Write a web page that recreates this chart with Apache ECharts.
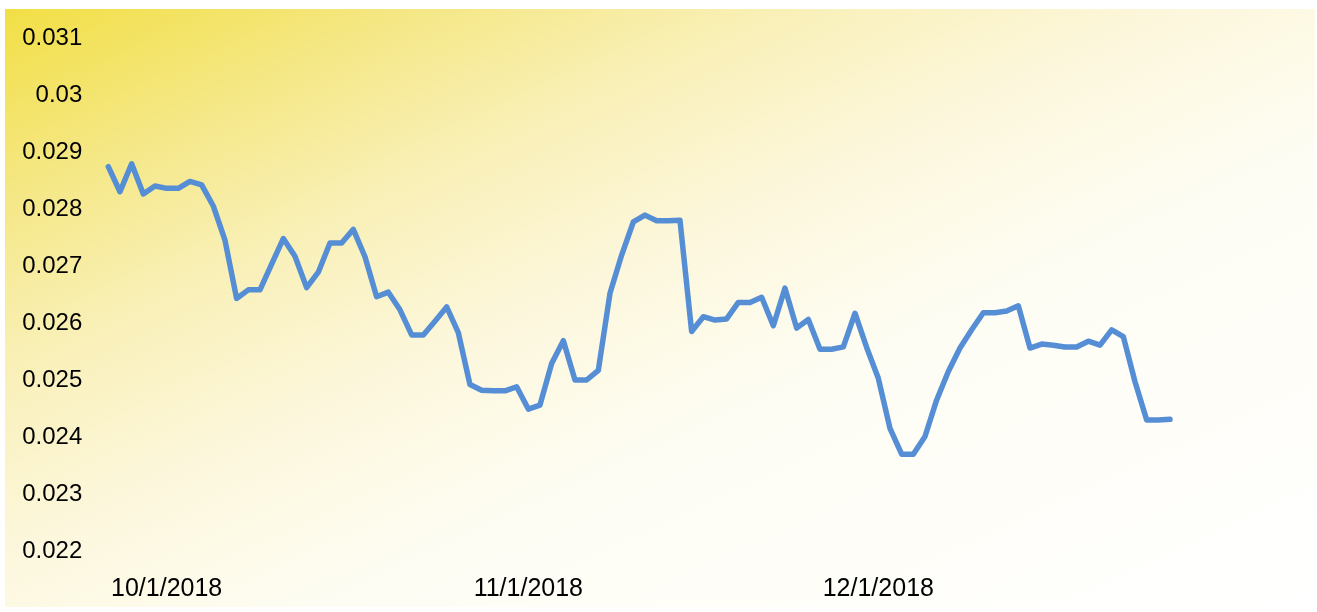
<!DOCTYPE html>
<html>
<head>
<meta charset="utf-8">
<script src="https://cdn.jsdelivr.net/npm/echarts@6/dist/echarts.min.js"></script>
<style>
  html, body { margin: 0; padding: 0; background: #ffffff; }
  #chart { width: 1317px; height: 612px; }
</style>
</head>
<body>
<div id="chart"></div>
<script>
// Categories: daily dates
const dates = [
  "9/26/2018","9/27/2018","9/28/2018","9/29/2018","9/30/2018",
  "10/1/2018","10/2/2018","10/3/2018","10/4/2018","10/5/2018","10/6/2018","10/7/2018","10/8/2018","10/9/2018","10/10/2018",
  "10/11/2018","10/12/2018","10/13/2018","10/14/2018","10/15/2018","10/16/2018","10/17/2018","10/18/2018","10/19/2018","10/20/2018",
  "10/21/2018","10/22/2018","10/23/2018","10/24/2018","10/25/2018","10/26/2018","10/27/2018","10/28/2018","10/29/2018","10/30/2018","10/31/2018",
  "11/1/2018","11/2/2018","11/3/2018","11/4/2018","11/5/2018","11/6/2018","11/7/2018","11/8/2018","11/9/2018","11/10/2018",
  "11/11/2018","11/12/2018","11/13/2018","11/14/2018","11/15/2018","11/16/2018","11/17/2018","11/18/2018","11/19/2018","11/20/2018",
  "11/21/2018","11/22/2018","11/23/2018","11/24/2018","11/25/2018","11/26/2018","11/27/2018","11/28/2018","11/29/2018","11/30/2018",
  "12/1/2018","12/2/2018","12/3/2018","12/4/2018","12/5/2018","12/6/2018","12/7/2018","12/8/2018","12/9/2018","12/10/2018",
  "12/11/2018","12/12/2018","12/13/2018","12/14/2018","12/15/2018","12/16/2018","12/17/2018","12/18/2018","12/19/2018","12/20/2018",
  "12/21/2018","12/22/2018","12/23/2018","12/24/2018","12/25/2018","12/26/2018"
];

// Series values
const values = [
  0.02875, 0.02831, 0.02880, 0.02827, 0.02841,
  0.02837, 0.02837, 0.02849, 0.02843, 0.02806, 0.02746, 0.02644, 0.02659, 0.02659, 0.02704,
  0.02749, 0.02718, 0.02663, 0.02690, 0.02741, 0.02741, 0.02765, 0.02717, 0.02647, 0.02655,
  0.02624, 0.02580, 0.02580, 0.02604, 0.02629, 0.02584, 0.02493, 0.02483, 0.02482, 0.02482, 0.02489,
  0.02450, 0.02457, 0.02530, 0.02570, 0.02501, 0.02501, 0.02518, 0.02653, 0.02720, 0.02778,
  0.02790, 0.02780, 0.02780, 0.02781, 0.02586, 0.02612, 0.02606, 0.02608, 0.02637, 0.02637,
  0.02646, 0.02596, 0.02662, 0.02592, 0.02607, 0.02555, 0.02555, 0.02559, 0.02618, 0.02558,
  0.02504, 0.02416, 0.02371, 0.02371, 0.02402, 0.02466, 0.02516, 0.02557, 0.02589, 0.02619,
  0.02619, 0.02622, 0.02631, 0.02557, 0.02564, 0.02562, 0.02559, 0.02559, 0.02569, 0.02562,
  0.02589, 0.02577, 0.02498, 0.02431, 0.02431, 0.02432
];

// Tick labels shown on the x axis
const xTickLabels = ["10/1/2018", "11/1/2018", "12/1/2018"];

// Y axis range
const yMin = 0.022, yMax = 0.031, yStep = 0.001;

const chart = echarts.init(document.getElementById('chart'), null, { renderer: 'canvas' });

const option = {
  animation: false,
  backgroundColor: '#ffffff',
  graphic: [{
    type: 'rect',
    z: -100,
    silent: true,
    shape: { x: 5, y: 9, width: 1310, height: 598 },
    style: {
      fill: new echarts.graphic.LinearGradient(5, 9, 464, 1003, [
        { offset: 0, color: '#F2DF45' },
        { offset: 0.17, color: '#F5E88A' },
        { offset: 0.30, color: '#F9F0B8' },
        { offset: 0.45, color: '#FCF7DC' },
        { offset: 0.62, color: '#FEFDF4' },
        { offset: 1, color: '#FFFFFF' }
      ], true)
    }
  }],
  grid: { left: 108.3, right: 147, top: 38.3, bottom: 60.3, containLabel: false },
  xAxis: {
    type: 'category',
    data: dates,
    boundaryGap: false,
    axisLine: { show: false },
    axisTick: { show: false },
    splitLine: { show: false },
    axisLabel: {
      interval: function (idx, val) { return xTickLabels.indexOf(val) >= 0; },
      color: '#000000',
      fontFamily: 'Liberation Sans',
      fontSize: 25,
      margin: 25
    }
  },
  yAxis: {
    type: 'value',
    min: yMin,
    max: yMax,
    interval: yStep,
    axisLine: { show: false },
    axisTick: { show: false },
    splitLine: { show: false },
    axisLabel: {
      color: '#000000',
      fontFamily: 'Liberation Sans',
      fontSize: 24,
      margin: 26,
      formatter: function (v) { return String(parseFloat(v.toFixed(3))); }
    }
  },
  series: [{
    type: 'line',
    data: values,
    showSymbol: false,
    symbol: 'none',
    lineStyle: { color: '#558ED5', width: 5.5, join: 'round', cap: 'round' },
    z: 5
  }]
};

chart.setOption(option);
</script>
</body>
</html>
